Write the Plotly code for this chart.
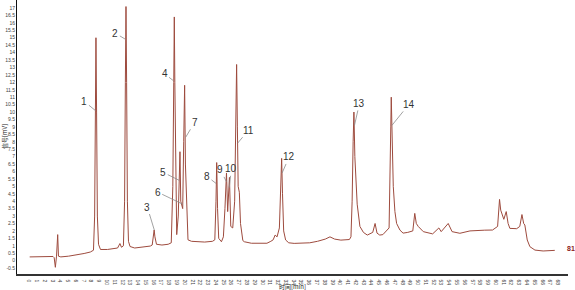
import plotly.graph_objects as go

# Chromatogram trace: retention time [min] and signal
TIME = [0.0, 1.0, 2.0, 3.0, 3.15, 3.3, 3.45, 3.6, 3.7, 4.0, 5.0, 6.0, 7.0, 7.8,
        8.2, 8.35, 8.45, 8.52, 8.6, 8.7, 8.85, 9.1, 10.0, 11.0, 11.3, 11.6, 11.8,
        12.05, 12.2, 12.3, 12.38, 12.46, 12.56, 12.7, 12.9, 13.5, 14.5, 15.5,
        15.75, 15.9, 16.0, 16.1, 16.3, 17.0, 17.8,
        18.2, 18.4, 18.52, 18.59, 18.66, 18.78, 18.9,
        19.1, 19.25, 19.32, 19.42, 19.67, 19.8, 19.92, 20.02, 20.1, 20.2, 20.35,
        20.8, 21.5, 22.5, 23.5,
        23.8, 23.95, 24.04, 24.15, 24.3, 24.65,
        24.9, 25.1, 25.3, 25.45, 25.68, 25.85, 26.1,
        26.35, 26.5, 26.6, 26.7, 26.8, 26.95, 27.1, 27.4, 27.6, 28.5, 29.5, 30.5, 31.0,
        31.3, 31.55, 31.8,
        32.1, 32.25, 32.39, 32.5, 32.65, 32.9, 33.3, 34.0, 35.0, 36.0, 37.0, 38.0,
        38.6, 39.2, 40.0, 41.1,
        41.3, 41.45, 41.58, 41.68, 41.8, 41.95, 42.1, 42.45, 42.9, 43.4,
        44.1, 44.4, 44.65, 45.0, 45.4,
        46.2, 46.33, 46.42, 46.48, 46.6, 46.74, 46.95, 47.17, 47.6, 48.0, 48.6,
        49.25, 49.5, 49.7, 49.95, 50.6, 51.8, 52.6, 52.9, 53.8, 54.3, 55.3,
        56.6, 57.5, 58.5, 59.5, 60.15,
        60.4, 60.55, 60.95, 61.26, 61.5, 61.73, 62.6, 63.0, 63.28, 63.5, 63.65,
        63.96, 64.3, 64.95, 66.0, 67.5]
SIGNAL = [0.25, 0.25, 0.27, 0.28, 0.2, -0.45, 0.3, 1.75, 0.3, 0.25, 0.3, 0.38, 0.48, 0.58,
          0.7, 3.0, 10.0, 15.0, 10.0, 3.0, 1.1, 0.75, 0.75, 0.85, 0.85, 1.15, 0.9,
          1.0, 4.0, 12.0, 17.1, 12.0, 4.0, 1.3, 0.95, 0.85, 0.9, 0.98,
          1.05, 1.7, 2.06, 1.6, 1.1, 1.05, 1.1,
          1.2, 5.0, 12.0, 16.4, 12.0, 4.0, 1.75,
          3.0, 6.5, 7.33, 4.0, 3.5, 8.0, 11.8, 6.5, 5.3, 2.5, 1.4,
          1.3, 1.27, 1.25, 1.3,
          1.4, 4.0, 6.6, 3.5, 1.5, 1.27,
          1.6, 3.5, 5.9, 3.3, 5.6, 2.3, 2.2,
          4.0, 10.0, 13.2, 9.0, 5.0, 4.6, 2.5, 1.35, 1.27, 1.17, 1.15, 1.17, 1.3,
          1.4, 1.72, 1.6,
          2.2, 4.5, 6.88, 4.5, 2.0, 1.39, 1.2, 1.16, 1.18, 1.2, 1.3, 1.45,
          1.6, 1.45, 1.38, 1.42,
          1.6, 4.0, 8.0, 10.0, 7.0, 5.0, 3.8, 2.3, 1.9, 1.72,
          1.9, 2.5, 1.85, 1.72, 1.75,
          2.2, 5.0, 9.0, 11.0, 7.0, 5.0, 3.3, 2.5, 2.05, 1.85, 1.9,
          2.0, 3.18, 2.5, 2.3, 1.95, 1.8, 2.2, 1.95, 2.5, 1.95, 1.84,
          2.0, 2.0, 2.05, 2.06, 2.3,
          4.12, 3.4, 2.78, 3.3, 2.5, 2.17, 2.15, 2.3, 3.1, 2.5, 2.4,
          1.39, 0.94, 0.71, 0.65, 0.69]

# Peak labels
PEAK_NAMES = ["1", "2", "3", "4", "5", "6", "7", "8", "9", "10", "11", "12", "13", "14"]
PEAK_TIME = [8.45, 12.3, 16.02, 18.5, 19.23, 19.67, 20.05, 23.95, 25.3, 25.66, 26.72, 32.45, 41.75, 46.56]
PEAK_LEVEL = [10.1, 14.9, 2.06, 12.1, 5.4, 3.8, 8.3, 5.2, 5.3, 4.9, 7.9, 5.9, 9.1, 9.1]

Y_TICKS = [-0.5, 0, 0.5, 1, 1.5, 2, 2.5, 3, 3.5, 4, 4.5, 5, 5.5, 6, 6.5, 7, 7.5, 8, 8.5,
           9, 9.5, 10, 10.5, 11, 11.5, 12, 12.5, 13, 13.5, 14, 14.5, 15, 15.5, 16, 16.5, 17]
Y_LABELS = [f"{v:g}" for v in Y_TICKS]
X_TICKS = list(range(0, 69))
X_LABELS = [str(v) for v in X_TICKS]

TRACE_COLOR = "#9e4b3e"

fig = go.Figure()
fig.add_trace(go.Scatter(x=TIME, y=SIGNAL, mode="lines",
                         line=dict(color=TRACE_COLOR, width=1), hoverinfo="skip",
                         showlegend=False))

# label offsets (pixels) from the point on the peak to the label text
offsets = [(-11, -9), (-10, -6), (-7, -23), (-9, -7), (-16, -8), (-25, -12), (9, -15),
           (-9, -7), (-6, -12), (2, -19), (11, -13), (7, -16), (5, -22), (17, -21)]

annotations = []
for name, t, v, (ax, ay) in zip(PEAK_NAMES, PEAK_TIME, PEAK_LEVEL, offsets):
    annotations.append(dict(x=t, y=v, xref="x", yref="y", text=name, showarrow=True,
                            arrowhead=0, arrowwidth=0.8, arrowcolor="#8a8a8a",
                            ax=ax, ay=ay, standoff=0,
                            font=dict(family="Liberation Sans, Arial, sans-serif", size=10, color="#333333")))

annotations.append(dict(x=0.5, y=0, xref="paper", yref="paper", yshift=-12, showarrow=False,
                        text="时间[min]", xanchor="center", yanchor="middle",
                        font=dict(family="Noto Sans CJK SC, sans-serif", size=6, color="#222222")))
annotations.append(dict(x=0, y=0.5, xref="paper", yref="paper", xshift=-13, showarrow=False,
                        text="信号[mV]", textangle=-90, xanchor="center", yanchor="middle",
                        font=dict(family="Noto Sans CJK SC, sans-serif", size=6, color="#222222")))
annotations.append(dict(x=1, y=0.85, xref="paper", yref="y", xshift=3, showarrow=False,
                        text="<b>81</b>", xanchor="center", yanchor="middle",
                        font=dict(family="Liberation Sans, Arial, sans-serif", size=7, color="#8b1a1a")))

fig.update_layout(
    width=575, height=290,
    margin=dict(l=17, r=7, t=0, b=16),
    paper_bgcolor="white", plot_bgcolor="white",
    annotations=annotations,
    xaxis=dict(range=[-1.63, 69.2], tickvals=X_TICKS, ticktext=X_LABELS,
               showgrid=False, zeroline=False, showline=True, linecolor="#333333",
               linewidth=2, ticks="", tickfont=dict(family="Liberation Sans, Arial, sans-serif",
                                                    size=5, color="#444444")),
    yaxis=dict(range=[-0.9, 17.54], tickvals=Y_TICKS, ticktext=Y_LABELS,
               showgrid=False, zeroline=False, showline=True, linecolor="#111111",
               linewidth=1, ticks="", tickfont=dict(family="Liberation Sans, Arial, sans-serif",
                                                    size=5, color="#444444")),
)

fig.write_html("out.html")
